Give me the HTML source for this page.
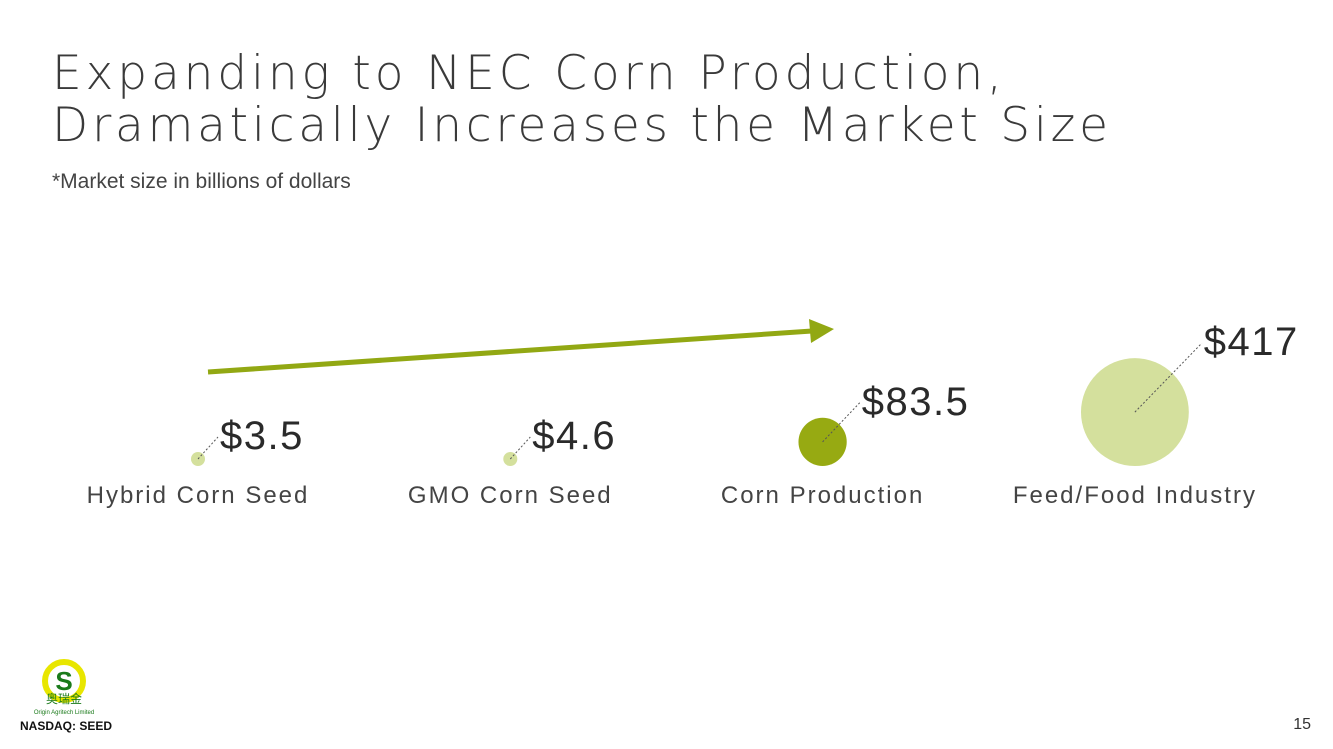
<!DOCTYPE html>
<html><head><meta charset="utf-8"><style>
html,body{margin:0;padding:0;background:#fff;}
svg{display:block;}
</style></head><body>
<svg width="1333" height="749" viewBox="0 0 1333 749">
<text x="52" y="89" font-family="DejaVu Sans, Liberation Sans, sans-serif" font-weight="200" font-size="47" fill="#3a3a3a" textLength="950" lengthAdjust="spacing">Expanding to NEC Corn Production,</text>
<text x="52" y="141" font-family="DejaVu Sans, Liberation Sans, sans-serif" font-weight="200" font-size="47" fill="#3a3a3a" textLength="1056" lengthAdjust="spacing">Dramatically Increases the Market Size</text>
<text x="52" y="188" font-family="Liberation Sans, sans-serif" font-size="21" fill="#444">*Market size in billions of dollars</text>
<g>
<line x1="208" y1="372" x2="812" y2="331" stroke="#92a813" stroke-width="5"/>
<polygon points="834,329 809,319 811,343" fill="#92a813"/>
</g>
<g id="chart"></g>
<g>
<circle cx="64" cy="681" r="19" fill="none" stroke="#e8e600" stroke-width="6"/>
<text x="64" y="690" text-anchor="middle" font-family="Liberation Sans, sans-serif" font-weight="bold" font-size="26" fill="#1a7a1a">S</text>
<text x="64" y="703" text-anchor="middle" font-family="Noto Sans CJK SC, sans-serif" font-size="12" fill="#1a7a1a">奥瑞金</text>
<text x="64" y="714" text-anchor="middle" font-family="Liberation Sans, sans-serif" font-size="6" fill="#1a7a1a">Origin Agritech Limited</text>
<text x="66" y="730" text-anchor="middle" font-family="Liberation Sans, sans-serif" font-weight="bold" font-size="12" fill="#111">NASDAQ: SEED</text>
</g>
<text x="1311" y="729" text-anchor="end" font-family="Liberation Sans, sans-serif" font-size="16" fill="#333">15</text>
</svg>
<script>
const categories = ["Hybrid Corn Seed","GMO Corn Seed","Corn Production","Feed/Food Industry"];
const values = [3.5, 4.6, 83.5, 417];
const valueLabels = ["$3.5","$4.6","$83.5","$417"];
const colors = ["#d4e09d","#d4e09d","#97aa12","#d4e09d"];
const NS="http://www.w3.org/2000/svg";
const g=document.getElementById('chart');
function xPos(i){return 198+i*312.3;}
function rad(v){return Math.max(7,2.64*Math.sqrt(v));}
const base=466;
function mk(t,a){const e=document.createElementNS(NS,t);for(const k in a)e.setAttribute(k,a[k]);g.appendChild(e);return e;}
categories.forEach((c,i)=>{
  const r=rad(values[i]), cx=xPos(i), cy=base-r;
  const b=mk('circle',{cx:cx,cy:cy,r:r,fill:colors[i]});
  
  
  const tx=cx+15+r, ty=cy-r-3;
  const ln=mk('line',{x1:cx,y1:cy,x2:tx-2,y2:ty-12,stroke:'#555','stroke-width':1,'stroke-dasharray':'2,2'});
  
  
  const t=mk('text',{x:tx,y:ty,'font-family':'Liberation Sans, sans-serif','font-size':40,fill:'#2a2a2a','letter-spacing':'1.5'});
  t.textContent=valueLabels[i];
  
  
  const cl=mk('text',{x:cx,y:503,'text-anchor':'middle','font-family':'Liberation Sans, sans-serif','font-size':24,fill:'#444','letter-spacing':'2'});
  cl.textContent=c;
  
  
});
</script>
</body></html>
